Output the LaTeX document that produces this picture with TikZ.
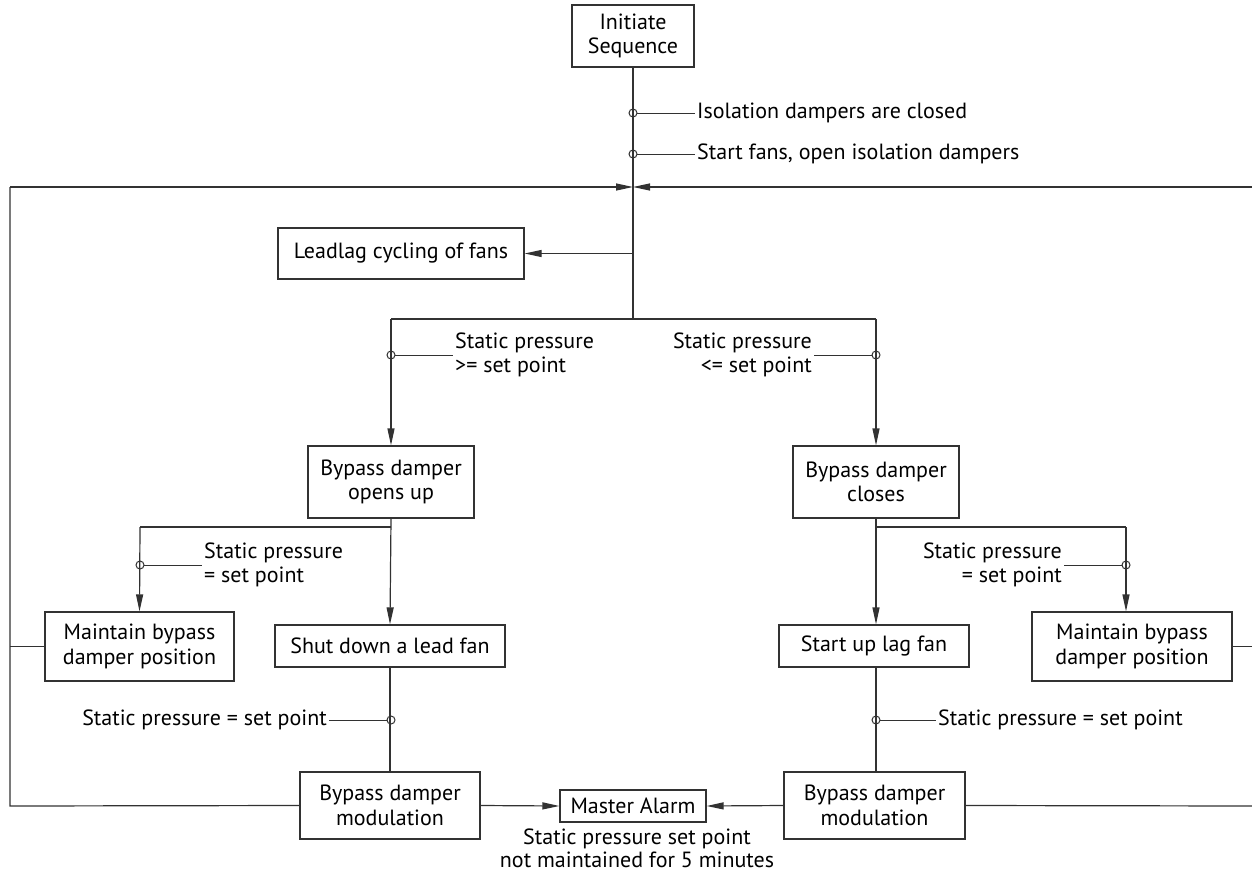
\documentclass[tikz,border=0pt]{standalone}
\usepackage{fontspec}
\setmainfont{PT Sans}
\usetikzlibrary{arrows.meta}
\definecolor{ln}{RGB}{50,50,50}
\tikzset{
  box/.style={draw=ln, line width=1.2pt, align=center, inner sep=0pt, font=\fontsize{22}{24.5}\selectfont},
  lbl/.style={inner sep=2pt, font=\fontsize{22}{24.5}\selectfont},
  wire/.style={draw=ln, line width=1.2pt},
  arr/.style={wire, -{Triangle[length=17pt,width=7pt]}},
  tap/.style={draw=ln, line width=1pt},
}
\begin{document}
\begin{tikzpicture}[x=1pt,y=-1pt]
\useasboundingbox (0,0) rectangle (1252,875);
% boxes
\node[box, minimum width=122pt, minimum height=62pt] (init) at (633,36) {Initiate\\Sequence};
\node[box, minimum width=246pt, minimum height=51pt] (lead) at (401,253.5) {Leadlag cycling of fans};
\node[box, minimum width=166pt, minimum height=72pt] (open) at (391,482) {Bypass damper\\opens up};
\node[box, minimum width=166pt, minimum height=72pt] (close) at (876,482) {Bypass damper\\closes};
\node[box, minimum width=189pt, minimum height=69pt] (mainL) at (139.5,646.5) {Maintain bypass\\damper position};
\node[box, minimum width=230pt, minimum height=42pt] (shut) at (390,646) {Shut down a lead fan};
\node[box, minimum width=190pt, minimum height=42pt] (lag) at (874,646) {Start up lag fan};
\node[box, minimum width=200pt, minimum height=69pt] (mainR) at (1132,646.5) {Maintain bypass\\damper position};
\node[box, minimum width=180pt, minimum height=67pt] (modL) at (390,805.5) {Bypass damper\\modulation};
\node[box, minimum width=181pt, minimum height=67pt] (modR) at (874.5,805.5) {Bypass damper\\modulation};
\node[box, minimum width=146pt, minimum height=32pt] (alarm) at (633,806) {Master Alarm};
\node[inner sep=0pt, align=center, font=\fontsize{22}{23}\selectfont] (alnote) at (637,848) {Static pressure set point\\not maintained for 5 minutes};

% junction coordinates
\coordinate (j1) at (633,319);
\coordinate (m0) at (633,187);
\coordinate (L0) at (10,187);
\coordinate (R0) at (1252,187);
\coordinate (L1) at (10,806);
\coordinate (R1) at (1252,646.5);
\coordinate (R2) at (1252,806);
\coordinate (bl) at (391,319);
\coordinate (br) at (876,319);
\coordinate (bl2) at (140,527);
\coordinate (br2) at (1126,527);

% main spine
\draw[wire] (init.south) -- (j1);
\draw[arr] (L0) -- (m0);
\draw[arr] (R0) -- (m0);
\draw[arr] (lead.east -| j1) -- (lead.east);
\draw[wire] (bl) -- (br);
\draw[arr] (bl) -- (open.north);
\draw[arr] (br) -- (close.north);

% outer loop
\draw[wire] (L0) -- (L1) -- (modL.west);
\draw[wire] (mainL.west) -- (mainL.west -| L0);
\draw[wire] (mainR.east) -- (R1);
\draw[wire] (modR.east) -- (R2);

% left sub-branch
\draw[arr] (open.south) -- (shut.north);
\draw[wire] (open.south |- bl2) -- (bl2);
\draw[arr] (bl2) -- (mainL.north);
\draw[wire] (shut.south) -- (modL.north);

% right sub-branch
\draw[arr] (close.south) -- (lag.north -| close.south);
\draw[wire] (close.south |- br2) -- (br2);
\draw[arr] (br2) -- (mainR.north -| br2);
\draw[wire] (lag.south -| close.south) -- (modR.north -| close.south);

% alarm
\draw[arr] (modL.east) -- (alarm.west);
\draw[arr] (modR.west) -- (alarm.east);

% condition taps
\coordinate (c1) at (633,113);
\coordinate (c2) at (633,154);
\coordinate (c3) at (391,355);
\coordinate (c4) at (876,355);
\coordinate (c5) at (140,565);
\coordinate (c6) at (1126,565);
\coordinate (c7) at (391,720);
\coordinate (c8) at (876,720);
\foreach \c in {c1,c2,c3,c4,c5,c6,c7,c8} \draw[tap] (\c) circle (4pt);

\node[lbl, anchor=west] (t1) at (695,113) {Isolation dampers are closed};
\node[lbl, anchor=west] (t2) at (695,154) {Start fans, open isolation dampers};
\node[lbl, anchor=west, align=left] (t3) at (453,355) {Static pressure\\>= set point};
\node[lbl, anchor=east, align=right] (t4) at (814,355) {Static pressure\\<= set point};
\node[lbl, anchor=west, align=left] (t5) at (202,565) {Static pressure\\= set point};
\node[lbl, anchor=east, align=right] (t6) at (1064,565) {Static pressure\\= set point};
\node[lbl, anchor=east] (t7) at (329,720) {Static pressure = set point};
\node[lbl, anchor=west] (t8) at (936,720) {Static pressure = set point};

\draw[tap] ([xshift=4pt]c1) -- (t1.west);
\draw[tap] ([xshift=4pt]c2) -- (t2.west);
\draw[tap] ([xshift=4pt]c3) -- (t3.west);
\draw[tap] ([xshift=-4pt]c4) -- (t4.east);
\draw[tap] ([xshift=4pt]c5) -- (t5.west);
\draw[tap] ([xshift=-4pt]c6) -- (t6.east);
\draw[tap] ([xshift=-4pt]c7) -- (t7.east);
\draw[tap] ([xshift=4pt]c8) -- (t8.west);
\end{tikzpicture}
\end{document}
